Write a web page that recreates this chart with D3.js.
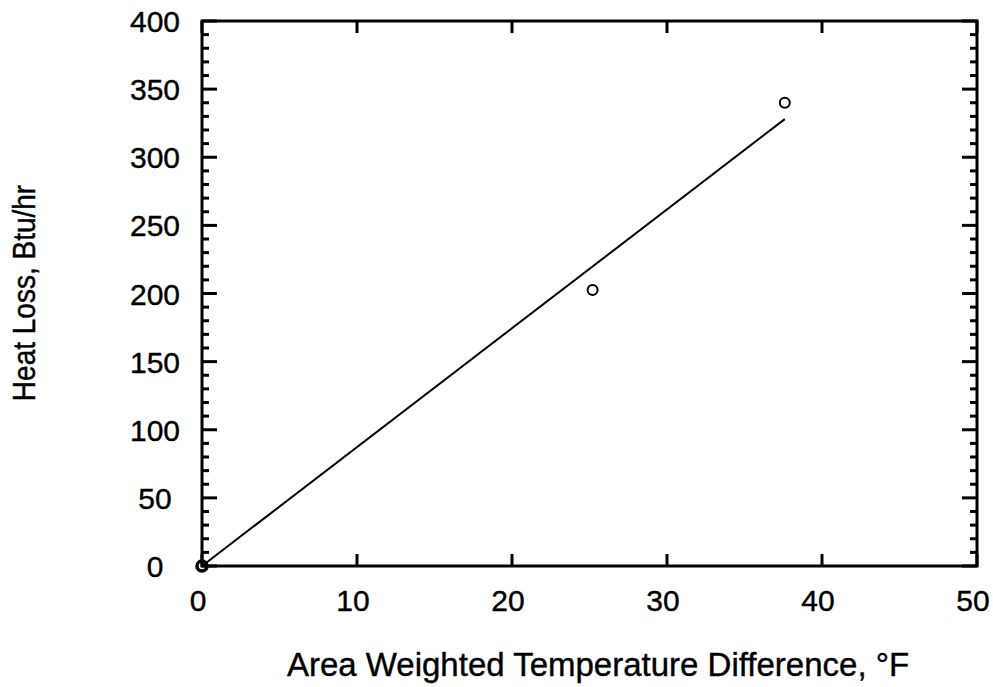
<!DOCTYPE html>
<html><head><meta charset="utf-8">
<script src="https://cdn.jsdelivr.net/npm/d3@7/dist/d3.min.js"></script>
<style>body{margin:0;background:#fff}svg{display:block}text{font-family:"Liberation Sans",Arial,sans-serif;fill:#000;stroke:#000;stroke-width:0.4px}</style>
</head><body>
<script>
const xTicks = [0, 10, 20, 30, 40, 50];
const yTicks = [0, 50, 100, 150, 200, 250, 300, 350, 400];
const pointsX = [0, 25.2, 37.6];
const pointsY = [0, 202.5, 340];
const fitX = [0, 37.6];
const fitY = [0, 328];
const xTitle = "Area Weighted Temperature Difference, °F";
const yTitle = "Heat Loss, Btu/hr";

const W = 993, H = 687;
const m = {left: 202, right: 16, top: 21, bottom: 121};
const svg = d3.select("body").append("svg").attr("width", W).attr("height", H);
const x = d3.scaleLinear().domain([0, 50]).range([m.left, W - m.right]);
const y = d3.scaleLinear().domain([0, 400]).range([H - m.bottom, m.top]);

const g = svg.append("g");
const yMinor = d3.range(0, 401, 10).filter(v => v % 50 !== 0);

function ticksY(xpos, dir) {
  g.selectAll(null).data(yTicks).enter().append("line")
    .attr("x1", xpos).attr("x2", xpos + dir * 15)
    .attr("y1", d => y(d)).attr("y2", d => y(d))
    .attr("stroke", "#000").attr("stroke-width", 3);
  g.selectAll(null).data(yMinor).enter().append("line")
    .attr("x1", xpos).attr("x2", xpos + dir * 7)
    .attr("y1", d => y(d)).attr("y2", d => y(d))
    .attr("stroke", "#000").attr("stroke-width", 3);
}
ticksY(x(0), 1);
ticksY(x(50), -1);
function ticksX(ypos, dir) {
  g.selectAll(null).data(xTicks).enter().append("line")
    .attr("y1", ypos).attr("y2", ypos + dir * 12)
    .attr("x1", d => x(d)).attr("x2", d => x(d))
    .attr("stroke", "#000").attr("stroke-width", 3);
}
ticksX(y(0), -1);
ticksX(y(400), 1);

g.append("rect").attr("x", x(0)).attr("y", y(400))
  .attr("width", x(50) - x(0)).attr("height", y(0) - y(400))
  .attr("fill", "none").attr("stroke", "#000").attr("stroke-width", 3);

g.selectAll(null).data(xTicks).enter().append("text")
  .attr("x", d => x(d) - 4).attr("y", y(0) + 45)
  .attr("text-anchor", "middle").attr("font-size", 30).text(d => d);
g.selectAll(null).data(yTicks).enter().append("text")
  .attr("x", x(0) - 47).attr("y", d => y(d) + 11)
  .attr("text-anchor", "middle").attr("font-size", 30).text(d => d);

svg.append("text").attr("x", 598).attr("y", 676).attr("text-anchor", "middle")
  .attr("font-size", 33).text(xTitle);
svg.append("text").attr("transform", `translate(35,293) scale(1.12,1) rotate(-90)`)
  .attr("text-anchor", "middle").attr("font-size", 28).text(yTitle);

const line = d3.line().x(d => x(d[0])).y(d => y(d[1]));
g.append("path").datum(d3.zip(fitX, fitY)).attr("d", line)
  .attr("fill", "none").attr("stroke", "#000").attr("stroke-width", 2);

g.selectAll(null).data(d3.zip(pointsX, pointsY)).enter().append("circle")
  .attr("cx", d => x(d[0])).attr("cy", d => y(d[1]))
  .attr("r", (d, i) => i === 0 ? 5 : 5)
  .attr("fill", "none").attr("stroke", "#000")
  .attr("stroke-width", (d, i) => i === 0 ? 3.5 : 2);
</script>
</body></html>
